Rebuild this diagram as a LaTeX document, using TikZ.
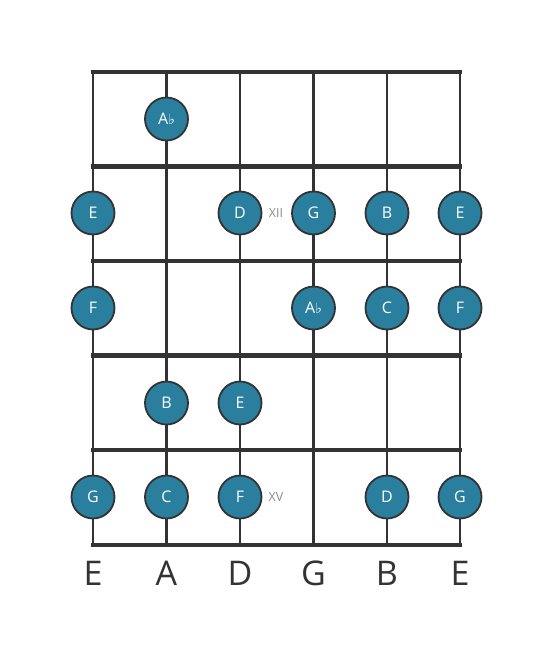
\documentclass[tikz,border=0pt]{standalone}
\usepackage{fontspec}
\setmainfont{Open Sans}
\newfontfamily\symfont{DejaVu Sans}
\definecolor{notefill}{HTML}{2A7F9E}
\definecolor{ink}{HTML}{333333}
\definecolor{fretlbl}{HTML}{8A8A8A}
\begin{document}
\begin{tikzpicture}[x=1pt,y=-1pt,
  fretline/.style={draw=ink,line width=4.5pt},
  stringline/.style={draw=ink,line width=2.4pt},
  note/.style={circle,draw=ink,line width=1.8pt,fill=notefill,minimum size=43pt,inner sep=0pt,text=white,font=\fontsize{16}{18}\selectfont},
  strlabel/.style={text=ink,font=\fontsize{34}{38}\selectfont},
  fretnum/.style={text=fretlbl,font=\fontsize{12.5}{14}\selectfont}]
\useasboundingbox (0,0) rectangle (553,656);
\def\fl{{\symfont\fontsize{14}{16}\selectfont\raisebox{0.5pt}{♭}}}
% strings
\foreach \x [count=\i] in {93,166.5,240,313.5,387,460}{
  \coordinate (st\i) at (\x,72);
  \coordinate (sb\i) at (\x,545);
  \draw[stringline] (st\i) -- (sb\i);
}
% frets
\foreach \y [count=\j] in {72,166.5,261,355.5,450,545}{
  \coordinate (fl\j) at (93,\y);
  \coordinate (fr\j) at (460,\y);
  \draw[fretline,line cap=rect] (fl\j) -- (fr\j);
}
% notes
\node[note] (n1) at (166.5,119) {A\fl};
\node[note] (n2) at (93,213) {E};
\node[note] (n3) at (240,213) {D};
\node[note] (n4) at (313.5,213) {G};
\node[note] (n5) at (387,213) {B};
\node[note] (n6) at (460,213) {E};
\node[note] (n7) at (93,308) {F};
\node[note] (n8) at (313.5,308) {A\fl};
\node[note] (n9) at (387,308) {C};
\node[note] (n10) at (460,308) {F};
\node[note] (n11) at (166.5,403) {B};
\node[note] (n12) at (240,403) {E};
\node[note] (n13) at (93,497) {G};
\node[note] (n14) at (166.5,497) {C};
\node[note] (n15) at (240,497) {F};
\node[note] (n16) at (387,497) {D};
\node[note] (n17) at (460,497) {G};
% fret numbers
\node[fretnum] (x12) at (276,213) {XII};
\node[fretnum] (x15) at (276,497) {XV};
% string labels
\foreach \x/\t [count=\i] in {93/E,166.5/A,240/D,313.5/G,387/B,460/E}{
  \node[strlabel] (lab\i) at (\x,573) {\t};
}
\end{tikzpicture}
\end{document}
